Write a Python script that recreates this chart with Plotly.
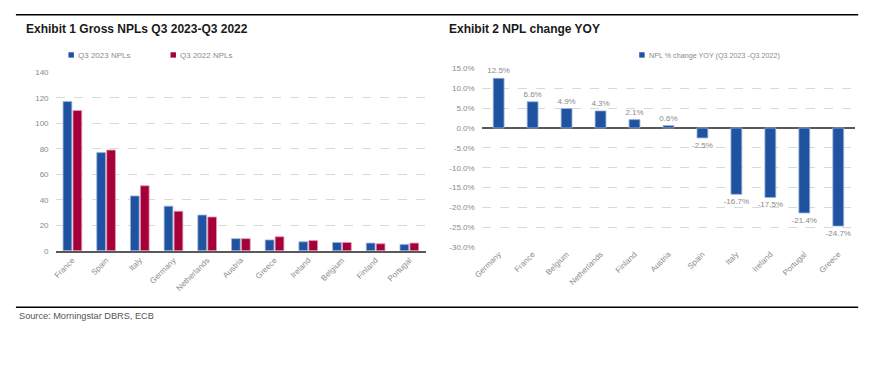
import plotly.graph_objects as go

# ---- data ----
countries_1 = ["France", "Spain", "Italy", "Germany", "Netherlands", "Austria",
               "Greece", "Ireland", "Belgium", "Finland", "Portugal"]
npl_q3_2023 = [117, 77, 43, 35, 28, 9.5, 8.5, 7, 6.5, 6, 5]
npl_q3_2022 = [110, 79, 51, 31, 26.5, 9.5, 11, 8, 6.5, 5.5, 6]

countries_2 = ["Germany", "France", "Belgium", "Netherlands", "Finland", "Austria",
               "Spain", "Italy", "Ireland", "Portugal", "Greece"]
npl_change = [12.5, 6.6, 4.9, 4.3, 2.1, 0.6, -2.5, -16.7, -17.5, -21.4, -24.7]

left_ticks = [0, 20, 40, 60, 80, 100, 120, 140]
right_ticks = [15, 10, 5, 0, -5, -10, -15, -20, -25, -30]
right_tick_labels = [f"{v:.1f}%" for v in right_ticks]

# ---- styles ----
W, H = 882, 365
BLUE = "#1F53A2"
RED = "#A5003A"
GRAY = "#8A8A8A"
GRID = "#D9D9D9"
AXIS = "#595959"
FONT = "Liberation Sans, Arial, sans-serif"


def px(x):
    return x / W


def py(y):
    return 1 - y / H


fig = go.Figure()

fig.add_trace(go.Bar(x=countries_1, y=npl_q3_2023, name="Q3 2023 NPLs",
                     marker=dict(color=BLUE, line=dict(color="#9DB3D8", width=0.8)),
                     xaxis="x", yaxis="y", showlegend=False))
fig.add_trace(go.Bar(x=countries_1, y=npl_q3_2022, name="Q3 2022 NPLs",
                     marker=dict(color=RED, line=dict(color="#E29AB2", width=0.8)),
                     xaxis="x", yaxis="y", showlegend=False))
fig.add_trace(go.Bar(x=countries_2, y=npl_change,
                     name="NPL % change YOY (Q3 2023 -Q3 2022)",
                     marker=dict(color=BLUE, line=dict(color="#9DB3D8", width=0.8)),
                     texttemplate="%{y:.1f}%", textposition="outside",
                     constraintext="none",
                     textfont=dict(color=GRAY, size=8, family=FONT),
                     cliponaxis=False, width=0.32,
                     xaxis="x2", yaxis="y2", showlegend=False))

fig.update_layout(
    width=W, height=H,
    margin=dict(l=0, r=0, t=0, b=0),
    paper_bgcolor="white", plot_bgcolor="white",
    font=dict(family=FONT, color=GRAY, size=8),
    barmode="group", bargap=0.41, bargroupgap=0.12,
    showlegend=False,
    xaxis=dict(domain=[px(48), px(422)], anchor="y", tickangle=-45,
               showgrid=False, showline=True, linecolor=AXIS, linewidth=1.5,
               ticks="", tickfont=dict(size=8, color=GRAY, family=FONT)),
    yaxis=dict(domain=[py(253), py(70)], anchor="x", range=[0, 140],
               tickvals=left_ticks, showgrid=True, gridcolor=GRID,
               griddash="dash", gridwidth=1, zeroline=False, showline=False,
               ticks="", ticklabelstandoff=6,
               tickfont=dict(size=8, color=GRAY, family=FONT)),
    xaxis2=dict(domain=[px(478), px(855)], anchor="y2", tickangle=-45,
                showgrid=False, showline=False, ticks="",
                tickfont=dict(size=8, color=GRAY, family=FONT)),
    yaxis2=dict(domain=[py(249.3), py(66)], anchor="x2", range=[-30, 15],
                tickvals=right_ticks, ticktext=right_tick_labels,
                showgrid=True, gridcolor=GRID, griddash="dash", gridwidth=1,
                zeroline=True, zerolinecolor=AXIS, zerolinewidth=1.5,
                showline=False, ticks="", ticklabelstandoff=6,
                tickfont=dict(size=8, color=GRAY, family=FONT)),
)

shapes = [
    dict(type="line", xref="paper", yref="paper", x0=px(8), x1=px(858),
         y0=py(11), y1=py(11), line=dict(color="black", width=1.5)),
    dict(type="line", xref="paper", yref="paper", x0=px(8), x1=px(858),
         y0=py(311), y1=py(311), line=dict(color="black", width=1.5)),
    # legend squares
    dict(type="rect", xref="paper", yref="paper", x0=px(61), x1=px(66.5),
         y0=py(55), y1=py(49.5), fillcolor=BLUE, line=dict(width=0)),
    dict(type="rect", xref="paper", yref="paper", x0=px(164), x1=px(169.5),
         y0=py(55), y1=py(49.5), fillcolor=RED, line=dict(width=0)),
    dict(type="rect", xref="paper", yref="paper", x0=px(637), x1=px(642.5),
         y0=py(55), y1=py(49.5), fillcolor=BLUE, line=dict(width=0)),
]
fig.update_layout(shapes=shapes)

annotations = [
    dict(text="<b>Exhibit 1 Gross NPLs Q3 2023-Q3 2022</b>", x=px(16), y=py(26),
         font=dict(size=12, color="#1a1a1a", family=FONT)),
    dict(text="<b>Exhibit 2 NPL change YOY</b>", x=px(443), y=py(26),
         font=dict(size=12, color="#1a1a1a", family=FONT)),
    dict(text="Q3 2023 NPLs", x=px(68.5), y=py(52.5),
         font=dict(size=8, color=GRAY, family=FONT)),
    dict(text="Q3 2022 NPLs", x=px(171.5), y=py(52.5),
         font=dict(size=8, color=GRAY, family=FONT)),
    dict(text="NPL % change YOY (Q3 2023 -Q3 2022)", x=px(644.5), y=py(52.5),
         font=dict(size=7.2, color=GRAY, family=FONT)),
    dict(text="Source: Morningstar DBRS, ECB", x=px(9), y=py(320),
         font=dict(size=9.2, color="#555555", family=FONT)),
]
for a in annotations:
    a.update(xref="paper", yref="paper", xanchor="left", yanchor="middle",
             showarrow=False)
fig.update_layout(annotations=annotations)

fig.write_html("out.html", config=dict(displayModeBar=False),
               post_script="document.body.style.margin='0px';document.body.style.overflow='hidden';")
